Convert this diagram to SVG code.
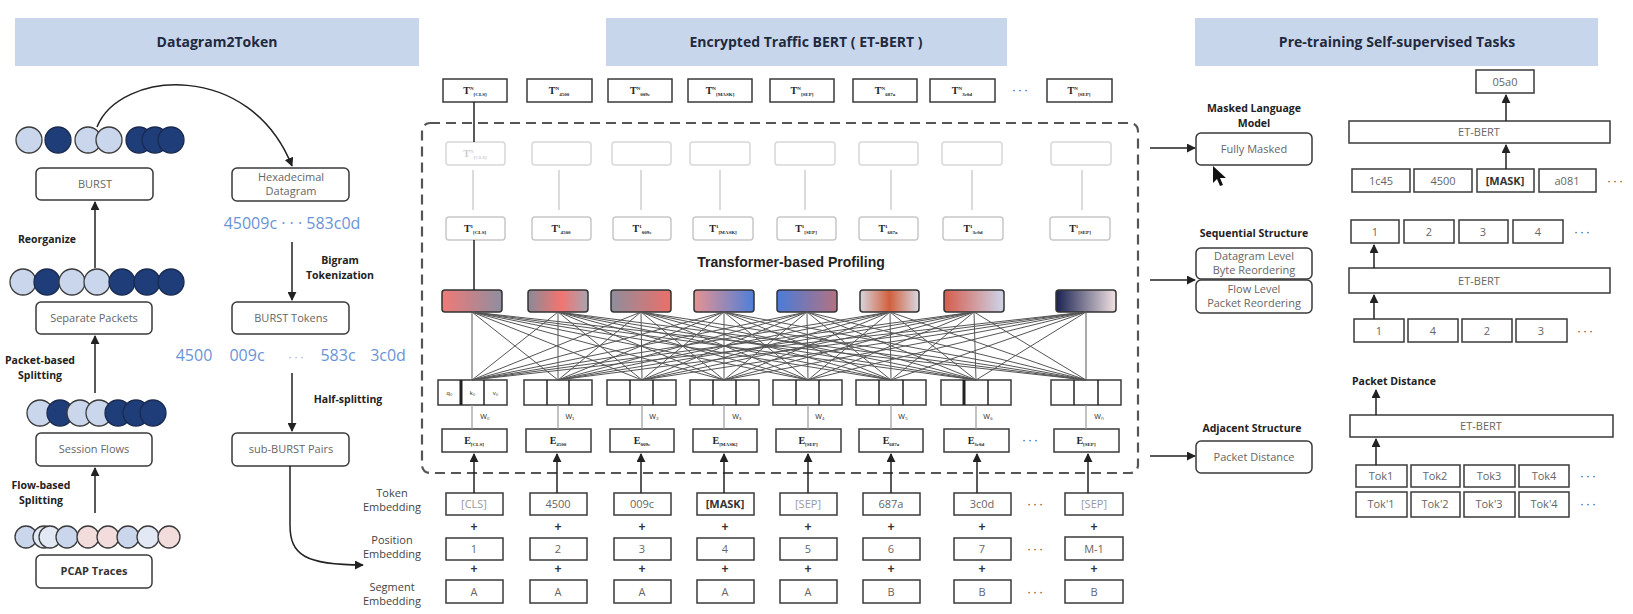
<svg xmlns="http://www.w3.org/2000/svg" width="1633" height="614" viewBox="0 0 1633 614">
<defs>
<style>
.hdr{fill:#c8d6ec}
.ht{font-family:"Open Sans","Liberation Sans",sans-serif;font-weight:bold;font-size:14px;fill:#1f2a40;text-anchor:middle}
.box{fill:#fff;stroke:#3a3a3a;stroke-width:1.5}
.rbox{fill:#fff;stroke:#3a3a3a;stroke-width:1.5}
.fbox{fill:#fff;stroke:#d8d8d8;stroke-width:1.5}
.tbox{fill:#fff;stroke:#c8c8c8;stroke-width:1.5}
.bt{font-family:"Open Sans","Liberation Sans",sans-serif;font-size:11px;fill:#666;text-anchor:middle}
.lb{font-family:"Open Sans","Liberation Sans",sans-serif;font-weight:bold;font-size:10.5px;fill:#222;text-anchor:middle}
.blue{font-family:"Open Sans","Liberation Sans",sans-serif;font-size:16px;fill:#6b93d6;text-anchor:middle}
.tt{font-family:"Liberation Serif",serif;font-size:10px;fill:#222;text-anchor:middle;font-weight:bold}
.ts{font-size:5px}
.ln{stroke:#222;stroke-width:1.5;fill:none}
.gl{stroke:#cfcfcf;stroke-width:1.5;fill:none}
.att{stroke:#555;stroke-width:1;fill:none}
.dash{fill:none;stroke:#555;stroke-width:2.2;stroke-dasharray:10,6}
.cl{fill:#c9d6ec;stroke:#3a3a3a;stroke-width:1.3}
.cd{fill:#1f3d78;stroke:#1a2a50;stroke-width:1.3}
.cw{fill:#e2e9f4;stroke:#3a3a3a;stroke-width:1.3}
.cp{fill:#f2dcdc;stroke:#3a3a3a;stroke-width:1.3}
.sm{font-family:"Liberation Sans",sans-serif;font-size:6px;fill:#333;text-anchor:middle}
.pl{font-family:"Liberation Sans",sans-serif;font-size:12px;fill:#333;text-anchor:middle;font-weight:bold}
.dots{font-family:"Liberation Sans",sans-serif;font-size:12px;fill:#444;text-anchor:middle;letter-spacing:2px}
</style>
<marker id="ah" viewBox="0 0 10 10" refX="9" refY="5" markerWidth="6" markerHeight="6" orient="auto-start-reverse"><path d="M0,0 L10,5 L0,10 z" fill="#222"/></marker>
<linearGradient id="g1"><stop offset="0" stop-color="#f07a76"/><stop offset="1" stop-color="#8f8ea0"/></linearGradient>
<linearGradient id="g2"><stop offset="0" stop-color="#8a8a98"/><stop offset="0.55" stop-color="#f27470"/><stop offset="1" stop-color="#a9a4b0"/></linearGradient>
<linearGradient id="g3"><stop offset="0" stop-color="#8e8e9c"/><stop offset="1" stop-color="#ec6f6a"/></linearGradient>
<linearGradient id="g4"><stop offset="0" stop-color="#e69292"/><stop offset="1" stop-color="#4f7fd8"/></linearGradient>
<linearGradient id="g5"><stop offset="0" stop-color="#4a7cd8"/><stop offset="1" stop-color="#b27282"/></linearGradient>
<linearGradient id="g6"><stop offset="0" stop-color="#d6d6de"/><stop offset="0.5" stop-color="#d2603e"/><stop offset="1" stop-color="#d8d8e2"/></linearGradient>
<linearGradient id="g7"><stop offset="0" stop-color="#d65c4c"/><stop offset="1" stop-color="#cdd5ea"/></linearGradient>
<linearGradient id="g8"><stop offset="0" stop-color="#1a2252"/><stop offset="1" stop-color="#f2e2e2"/></linearGradient>
</defs>
<rect width="1633" height="614" fill="#fff"/>

<!-- headers -->
<g id="hdr1"><rect class="hdr" x="15" y="18" width="404" height="48"/><text class="ht" x="217" y="47">Datagram2Token</text></g>
<g id="hdr2"><rect class="hdr" x="606" y="18" width="401" height="48"/><text class="ht" x="806" y="47">Encrypted Traffic BERT ( ET-BERT )</text></g>
<g id="hdr3"><rect class="hdr" x="1195" y="18" width="403" height="48"/><text class="ht" x="1397" y="47">Pre-training Self-supervised Tasks</text></g>

<!-- LEFT PANEL -->
<g id="circles1">
<circle class="cl" cx="29" cy="140" r="13"/><circle class="cd" cx="58" cy="140" r="13"/>
<circle class="cl" cx="88" cy="140" r="13"/><circle class="cl" cx="109" cy="140" r="13"/>
<circle class="cd" cx="139" cy="140" r="13"/><circle class="cd" cx="155" cy="140" r="13"/><circle class="cd" cx="171" cy="140" r="13"/>
</g>
<g id="burst"><rect class="rbox" x="36" y="168" width="117" height="32" rx="5"/><text class="bt" x="95" y="188">BURST</text></g>
<g id="hexdg"><rect class="rbox" x="232" y="168" width="117" height="33" rx="5"/><text class="bt" x="291" y="181">Hexadecimal</text><text class="bt" x="291" y="195">Datagram</text></g>
<text class="blue" x="292" y="229">45009c · · · 583c0d</text>

<g id="circles2">
<circle class="cl" cx="23" cy="282" r="13"/><circle class="cd" cx="47" cy="282" r="13"/>
<circle class="cl" cx="72" cy="282" r="13"/><circle class="cl" cx="97" cy="282" r="13"/>
<circle class="cd" cx="122" cy="282" r="13"/><circle class="cd" cx="147" cy="282" r="13"/><circle class="cd" cx="171" cy="282" r="13"/>
</g>
<g id="seppk"><rect class="rbox" x="36" y="302" width="116" height="32" rx="5"/><text class="bt" x="94" y="322">Separate Packets</text></g>
<g id="bursttok"><rect class="rbox" x="232" y="302" width="117" height="32" rx="5"/><text class="bt" x="291" y="322">BURST Tokens</text></g>
<g id="bluerow">
<text class="blue" x="194" y="361">4500</text><text class="blue" x="247" y="361">009c</text>
<text class="dots" x="297" y="361" style="fill:#9aaed6">···</text>
<text class="blue" x="338" y="361">583c</text><text class="blue" x="388" y="361">3c0d</text>
</g>

<g id="circles3">
<circle class="cl" cx="40" cy="413" r="13"/><circle class="cd" cx="60" cy="413" r="13"/>
<circle class="cl" cx="80" cy="413" r="13"/><circle class="cl" cx="99" cy="413" r="13"/>
<circle class="cd" cx="118" cy="413" r="13"/><circle class="cd" cx="136" cy="413" r="13"/><circle class="cd" cx="153" cy="413" r="13"/>
</g>
<g id="sessflows"><rect class="rbox" x="36" y="433" width="116" height="33" rx="5"/><text class="bt" x="94" y="453">Session Flows</text></g>
<g id="subburst"><rect class="rbox" x="232" y="433" width="117" height="33" rx="5"/><text class="bt" x="291" y="453">sub-BURST Pairs</text></g>

<g id="circles4">
<circle class="cl" cx="26" cy="537" r="11"/><circle class="cw" cx="44" cy="537" r="11"/><circle class="cw" cx="50" cy="537" r="11"/>
<circle class="cl" cx="67" cy="537" r="11"/><circle class="cp" cx="88" cy="537" r="11"/><circle class="cp" cx="108" cy="537" r="11"/>
<circle class="cl" cx="128" cy="537" r="11"/><circle class="cw" cx="148" cy="537" r="11"/><circle class="cp" cx="169" cy="537" r="11"/>
</g>
<g id="pcap"><rect class="rbox" x="36" y="555" width="116" height="33" rx="5"/><text class="bt" x="94" y="575" style="font-weight:bold;fill:#333">PCAP Traces</text></g>

<g id="leftlabels">
<text class="lb" x="47" y="243">Reorganize</text>
<text class="lb" x="40" y="364">Packet-based</text><text class="lb" x="40" y="379">Splitting</text>
<text class="lb" x="41" y="489">Flow-based</text><text class="lb" x="41" y="504">Splitting</text>
<text class="lb" x="340" y="264">Bigram</text><text class="lb" x="340" y="279">Tokenization</text>
<text class="lb" x="348" y="403">Half-splitting</text>
</g>

<!-- MIDDLE PANEL -->
<rect id="dashbox" class="dash" x="422" y="123" width="716" height="350" rx="8"/>

<g id="topTN">
<rect class="box" x="443" y="79" width="64" height="23"/><text class="tt" x="475" y="94">T<tspan class="ts" dy="-4">N</tspan><tspan class="ts" dy="6">[CLS]</tspan></text>
<rect class="box" x="527" y="79" width="65" height="23"/><text class="tt" x="559" y="94">T<tspan class="ts" dy="-4">N</tspan><tspan class="ts" dy="6">4500</tspan></text>
<rect class="box" x="608" y="79" width="64" height="23"/><text class="tt" x="640" y="94">T<tspan class="ts" dy="-4">N</tspan><tspan class="ts" dy="6">009c</tspan></text>
<rect class="box" x="688" y="79" width="64" height="23"/><text class="tt" x="720" y="94">T<tspan class="ts" dy="-4">N</tspan><tspan class="ts" dy="6">[MASK]</tspan></text>
<rect class="box" x="770" y="79" width="64" height="23"/><text class="tt" x="802" y="94">T<tspan class="ts" dy="-4">N</tspan><tspan class="ts" dy="6">[SEP]</tspan></text>
<rect class="box" x="853" y="79" width="64" height="23"/><text class="tt" x="885" y="94">T<tspan class="ts" dy="-4">N</tspan><tspan class="ts" dy="6">687a</tspan></text>
<rect class="box" x="930" y="79" width="65" height="23"/><text class="tt" x="962" y="94">T<tspan class="ts" dy="-4">N</tspan><tspan class="ts" dy="6">3c0d</tspan></text>
<text class="dots" x="1021" y="94">···</text>
<rect class="box" x="1047" y="79" width="65" height="23"/><text class="tt" x="1079" y="94">T<tspan class="ts" dy="-4">N</tspan><tspan class="ts" dy="6">[SEP]</tspan></text>
</g>

<g id="fadedrow">
<rect class="fbox" x="446" y="142" width="59" height="23" rx="3"/><text class="tt" x="475" y="157" style="fill:#ccc">T<tspan class="ts" dy="-4">N</tspan><tspan class="ts" dy="6">[CLS]</tspan></text>
<rect class="fbox" x="532" y="142" width="59" height="23" rx="3"/>
<rect class="fbox" x="612" y="142" width="59" height="23" rx="3"/>
<rect class="fbox" x="690" y="142" width="60" height="23" rx="3"/>
<rect class="fbox" x="775" y="142" width="60" height="23" rx="3"/>
<rect class="fbox" x="859" y="142" width="59" height="23" rx="3"/>
<rect class="fbox" x="942" y="142" width="60" height="23" rx="3"/>
<rect class="fbox" x="1051" y="142" width="60" height="23" rx="3"/>
</g>

<g id="t1row">
<rect class="tbox" x="446" y="217" width="59" height="23" rx="3"/><text class="tt" x="475" y="232">T<tspan class="ts" dy="-4">1</tspan><tspan class="ts" dy="6">[CLS]</tspan></text>
<rect class="tbox" x="532" y="217" width="59" height="23" rx="3"/><text class="tt" x="561" y="232">T<tspan class="ts" dy="-4">1</tspan><tspan class="ts" dy="6">4500</tspan></text>
<rect class="tbox" x="613" y="217" width="58" height="23" rx="3"/><text class="tt" x="642" y="232">T<tspan class="ts" dy="-4">1</tspan><tspan class="ts" dy="6">009c</tspan></text>
<rect class="tbox" x="693" y="217" width="60" height="23" rx="3"/><text class="tt" x="723" y="232">T<tspan class="ts" dy="-4">1</tspan><tspan class="ts" dy="6">[MASK]</tspan></text>
<rect class="tbox" x="777" y="217" width="59" height="23" rx="3"/><text class="tt" x="806" y="232">T<tspan class="ts" dy="-4">1</tspan><tspan class="ts" dy="6">[SEP]</tspan></text>
<rect class="tbox" x="859" y="217" width="59" height="23" rx="3"/><text class="tt" x="888" y="232">T<tspan class="ts" dy="-4">1</tspan><tspan class="ts" dy="6">687a</tspan></text>
<rect class="tbox" x="943" y="217" width="60" height="23" rx="3"/><text class="tt" x="973" y="232">T<tspan class="ts" dy="-4">1</tspan><tspan class="ts" dy="6">3c0d</tspan></text>
<rect class="tbox" x="1050" y="217" width="60" height="23" rx="3"/><text class="tt" x="1080" y="232">T<tspan class="ts" dy="-4">1</tspan><tspan class="ts" dy="6">[SEP]</tspan></text>
</g>

<text class="pl" x="791" y="267" style="font-size:14px;fill:#222">Transformer-based Profiling</text>

<g id="gradrow" stroke="#333" stroke-width="1.5">
<rect x="442" y="290" width="60" height="22" rx="3" fill="url(#g1)"/>
<rect x="528" y="290" width="60" height="22" rx="3" fill="url(#g2)"/>
<rect x="611" y="290" width="60" height="22" rx="3" fill="url(#g3)"/>
<rect x="694" y="290" width="60" height="22" rx="3" fill="url(#g4)"/>
<rect x="777" y="290" width="60" height="22" rx="3" fill="url(#g5)"/>
<rect x="860" y="290" width="59" height="22" rx="3" fill="url(#g6)"/>
<rect x="944" y="290" width="60" height="22" rx="3" fill="url(#g7)"/>
<rect x="1056" y="290" width="60" height="22" rx="3" fill="url(#g8)"/>
</g>

<g id="qkvrow">
<rect class="box" x="438" y="380" width="69" height="25"/><line class="ln" x1="461" y1="380" x2="461" y2="405" style="stroke-width:3"/><line class="ln" x1="484" y1="380" x2="484" y2="405"/>
<text class="sm" x="449.5" y="395">q₀</text><text class="sm" x="472.5" y="395">k₀</text><text class="sm" x="495.5" y="395">v₀</text>
<rect class="box" x="524" y="380" width="68" height="25"/><line class="ln" x1="547" y1="380" x2="547" y2="405"/><line class="ln" x1="569" y1="380" x2="569" y2="405"/>
<rect class="box" x="607" y="380" width="69" height="25"/><line class="ln" x1="630" y1="380" x2="630" y2="405"/><line class="ln" x1="653" y1="380" x2="653" y2="405"/>
<rect class="box" x="690" y="380" width="69" height="25"/><line class="ln" x1="713" y1="380" x2="713" y2="405"/><line class="ln" x1="736" y1="380" x2="736" y2="405"/>
<rect class="box" x="773" y="380" width="69" height="25"/><line class="ln" x1="796" y1="380" x2="796" y2="405"/><line class="ln" x1="819" y1="380" x2="819" y2="405"/>
<rect class="box" x="856" y="380" width="70" height="25"/><line class="ln" x1="879" y1="380" x2="879" y2="405"/><line class="ln" x1="903" y1="380" x2="903" y2="405"/>
<rect class="box" x="941" y="380" width="70" height="25"/><line class="ln" x1="964" y1="380" x2="964" y2="405" style="stroke-width:3"/><line class="ln" x1="988" y1="380" x2="988" y2="405"/>
<rect class="box" x="1051" y="380" width="70" height="25"/><line class="ln" x1="1074" y1="380" x2="1074" y2="405"/><line class="ln" x1="1098" y1="380" x2="1098" y2="405"/>
</g>

<g id="wlabels" class="sm">
<text class="sm" x="485" y="419" style="font-size:7px">W₀</text>
<text class="sm" x="570" y="419" style="font-size:7px">W₁</text>
<text class="sm" x="654" y="419" style="font-size:7px">W₂</text>
<text class="sm" x="737" y="419" style="font-size:7px">W₃</text>
<text class="sm" x="820" y="419" style="font-size:7px">W₄</text>
<text class="sm" x="903" y="419" style="font-size:7px">W₅</text>
<text class="sm" x="988" y="419" style="font-size:7px">W₆</text>
<text class="sm" x="1099" y="419" style="font-size:7px">Wₙ</text>
</g>

<g id="erow">
<rect class="box" x="442" y="429" width="65" height="23"/><text class="tt" x="474" y="444">E<tspan class="ts" dy="2">[CLS]</tspan></text>
<rect class="box" x="526" y="429" width="65" height="23"/><text class="tt" x="558" y="444">E<tspan class="ts" dy="2">4500</tspan></text>
<rect class="box" x="610" y="429" width="64" height="23"/><text class="tt" x="642" y="444">E<tspan class="ts" dy="2">009c</tspan></text>
<rect class="box" x="693" y="429" width="64" height="23"/><text class="tt" x="725" y="444">E<tspan class="ts" dy="2">[MASK]</tspan></text>
<rect class="box" x="776" y="429" width="65" height="23"/><text class="tt" x="808" y="444">E<tspan class="ts" dy="2">[SEP]</tspan></text>
<rect class="box" x="859" y="429" width="64" height="23"/><text class="tt" x="891" y="444">E<tspan class="ts" dy="2">687a</tspan></text>
<rect class="box" x="944" y="429" width="65" height="23"/><text class="tt" x="976" y="444">E<tspan class="ts" dy="2">3c0d</tspan></text>
<text class="dots" x="1031" y="444">···</text>
<rect class="box" x="1054" y="429" width="65" height="23"/><text class="tt" x="1086" y="444">E<tspan class="ts" dy="2">[SEP]</tspan></text>
</g>

<g id="embedlabels">
<text class="bt" x="392" y="497" style="fill:#444">Token</text><text class="bt" x="392" y="511" style="fill:#444">Embedding</text>
<text class="bt" x="392" y="544" style="fill:#444">Position</text><text class="bt" x="392" y="558" style="fill:#444">Embedding</text>
<text class="bt" x="392" y="591" style="fill:#444">Segment</text><text class="bt" x="392" y="605" style="fill:#444">Embedding</text>
</g>

<g id="tokrow">
<rect class="box" x="446" y="493" width="57" height="22"/><text class="bt" x="474" y="508" style="fill:#999">[CLS]</text>
<rect class="box" x="530" y="493" width="57" height="22"/><text class="bt" x="558" y="508">4500</text>
<rect class="box" x="614" y="493" width="57" height="22"/><text class="bt" x="642" y="508">009c</text>
<rect class="box" x="697" y="493" width="57" height="22"/><text class="bt" x="725" y="508" style="font-weight:bold;fill:#333">[MASK]</text>
<rect class="box" x="780" y="493" width="57" height="22"/><text class="bt" x="808" y="508" style="fill:#999">[SEP]</text>
<rect class="box" x="863" y="493" width="57" height="22"/><text class="bt" x="891" y="508">687a</text>
<rect class="box" x="954" y="493" width="57" height="22"/><text class="bt" x="982" y="508">3c0d</text>
<text class="dots" x="1036" y="508">···</text>
<rect class="box" x="1065" y="493" width="58" height="22"/><text class="bt" x="1094" y="508" style="fill:#999">[SEP]</text>
</g>
<g id="posrow">
<rect class="box" x="446" y="538" width="57" height="22"/><text class="bt" x="474" y="553">1</text>
<rect class="box" x="530" y="538" width="57" height="22"/><text class="bt" x="558" y="553">2</text>
<rect class="box" x="614" y="538" width="57" height="22"/><text class="bt" x="642" y="553">3</text>
<rect class="box" x="697" y="538" width="57" height="22"/><text class="bt" x="725" y="553">4</text>
<rect class="box" x="780" y="538" width="57" height="22"/><text class="bt" x="808" y="553">5</text>
<rect class="box" x="863" y="538" width="57" height="22"/><text class="bt" x="891" y="553">6</text>
<rect class="box" x="954" y="538" width="57" height="22"/><text class="bt" x="982" y="553">7</text>
<text class="dots" x="1036" y="553">···</text>
<rect class="box" x="1065" y="537" width="58" height="23"/><text class="bt" x="1094" y="553">M-1</text>
</g>
<g id="segrow">
<rect class="box" x="446" y="580" width="57" height="23"/><text class="bt" x="474" y="596">A</text>
<rect class="box" x="530" y="580" width="57" height="23"/><text class="bt" x="558" y="596">A</text>
<rect class="box" x="614" y="580" width="57" height="23"/><text class="bt" x="642" y="596">A</text>
<rect class="box" x="697" y="580" width="57" height="23"/><text class="bt" x="725" y="596">A</text>
<rect class="box" x="780" y="580" width="57" height="23"/><text class="bt" x="808" y="596">A</text>
<rect class="box" x="863" y="580" width="57" height="23"/><text class="bt" x="891" y="596">B</text>
<rect class="box" x="954" y="580" width="57" height="23"/><text class="bt" x="982" y="596">B</text>
<text class="dots" x="1036" y="596">···</text>
<rect class="box" x="1065" y="580" width="58" height="23"/><text class="bt" x="1094" y="596">B</text>
</g>
<g id="plus" class="pl">
<text class="pl" x="474" y="531">+</text><text class="pl" x="558" y="531">+</text><text class="pl" x="642" y="531">+</text><text class="pl" x="725" y="531">+</text><text class="pl" x="808" y="531">+</text><text class="pl" x="891" y="531">+</text><text class="pl" x="982" y="531">+</text><text class="pl" x="1094" y="531">+</text>
<text class="pl" x="474" y="573">+</text><text class="pl" x="558" y="573">+</text><text class="pl" x="642" y="573">+</text><text class="pl" x="725" y="573">+</text><text class="pl" x="808" y="573">+</text><text class="pl" x="891" y="573">+</text><text class="pl" x="982" y="573">+</text><text class="pl" x="1094" y="573">+</text>
</g>

<!-- RIGHT PANEL -->
<g id="mlm"><text class="lb" x="1254" y="112">Masked Language</text><text class="lb" x="1254" y="127">Model</text>
<rect class="rbox" x="1196" y="133" width="116" height="32" rx="5"/><text class="bt" x="1254" y="153">Fully Masked</text></g>
<polygon points="1213,166 1213,183 1217,179 1220,186 1223,185 1220,178 1226,178" fill="#111"/>
<g id="seq"><text class="lb" x="1254" y="237">Sequential Structure</text>
<rect class="rbox" x="1196" y="248" width="116" height="31" rx="5"/><text class="bt" x="1254" y="260">Datagram Level</text><text class="bt" x="1254" y="274">Byte Reordering</text>
<rect class="rbox" x="1196" y="280" width="116" height="33" rx="5"/><text class="bt" x="1254" y="293">Flow Level</text><text class="bt" x="1254" y="307">Packet Reordering</text></g>
<g id="adj"><text class="lb" x="1252" y="432">Adjacent Structure</text>
<rect class="rbox" x="1196" y="441" width="116" height="32" rx="5"/><text class="bt" x="1254" y="461">Packet Distance</text></g>

<g id="task1">
<rect class="box" x="1476" y="70" width="58" height="23"/><text class="bt" x="1505" y="86">05a0</text>
<rect class="box" x="1349" y="121" width="261" height="22"/><text class="bt" x="1479" y="136">ET-BERT</text>
<rect class="box" x="1352" y="169" width="58" height="23"/><text class="bt" x="1381" y="185">1c45</text>
<rect class="box" x="1414" y="169" width="58" height="23"/><text class="bt" x="1443" y="185">4500</text>
<rect class="box" x="1477" y="169" width="57" height="23"/><text class="bt" x="1505" y="185" style="font-weight:bold;fill:#333">[MASK]</text>
<rect class="box" x="1539" y="169" width="57" height="23"/><text class="bt" x="1567" y="185">a081</text>
<text class="dots" x="1616" y="185">···</text>
</g>
<g id="task2">
<rect class="box" x="1351" y="220" width="48" height="23"/><text class="bt" x="1375" y="236">1</text>
<rect class="box" x="1404" y="220" width="50" height="23"/><text class="bt" x="1429" y="236">2</text>
<rect class="box" x="1459" y="220" width="49" height="23"/><text class="bt" x="1483" y="236">3</text>
<rect class="box" x="1513" y="220" width="50" height="23"/><text class="bt" x="1538" y="236">4</text>
<text class="dots" x="1583" y="236">···</text>
<rect class="box" x="1349" y="268" width="261" height="25"/><text class="bt" x="1479" y="285">ET-BERT</text>
<rect class="box" x="1354" y="319" width="50" height="23"/><text class="bt" x="1379" y="335">1</text>
<rect class="box" x="1408" y="319" width="50" height="23"/><text class="bt" x="1433" y="335">4</text>
<rect class="box" x="1462" y="319" width="50" height="23"/><text class="bt" x="1487" y="335">2</text>
<rect class="box" x="1516" y="319" width="51" height="23"/><text class="bt" x="1541" y="335">3</text>
<text class="dots" x="1586" y="335">···</text>
</g>
<g id="task3">
<text class="lb" x="1352" y="385" style="text-anchor:start">Packet Distance</text>
<rect class="box" x="1350" y="415" width="263" height="22"/><text class="bt" x="1481" y="430">ET-BERT</text>
<rect class="box" x="1356" y="465" width="51" height="22"/><text class="bt" x="1381" y="480">Tok1</text>
<rect class="box" x="1411" y="465" width="49" height="22"/><text class="bt" x="1435" y="480">Tok2</text>
<rect class="box" x="1464" y="465" width="51" height="22"/><text class="bt" x="1489" y="480">Tok3</text>
<rect class="box" x="1519" y="465" width="50" height="22"/><text class="bt" x="1544" y="480">Tok4</text>
<text class="dots" x="1589" y="480">···</text>
<rect class="box" x="1356" y="492" width="51" height="25"/><text class="bt" x="1381" y="508">Tok'1</text>
<rect class="box" x="1411" y="492" width="49" height="25"/><text class="bt" x="1435" y="508">Tok'2</text>
<rect class="box" x="1464" y="492" width="51" height="25"/><text class="bt" x="1489" y="508">Tok'3</text>
<rect class="box" x="1519" y="492" width="50" height="25"/><text class="bt" x="1544" y="508">Tok'4</text>
<text class="dots" x="1589" y="508">···</text>
</g>

<!-- CONNECTORS -->
<g id="connectors">
<path class="ln" d="M97,127 C120,70 250,60 292,166" marker-end="url(#ah)"/>
<line class="ln" x1="95" y1="268" x2="95" y2="202" marker-end="url(#ah)"/>
<line class="ln" x1="292" y1="242" x2="292" y2="300" marker-end="url(#ah)"/>
<line class="ln" x1="95" y1="393" x2="95" y2="336" marker-end="url(#ah)"/>
<line class="ln" x1="292" y1="373" x2="292" y2="431" marker-end="url(#ah)"/>
<line class="ln" x1="95" y1="513" x2="95" y2="468" marker-end="url(#ah)"/>
<path class="ln" d="M290,466 L290,525 C290,555 305,565 363,565" marker-end="url(#ah)"/>

<line class="ln" x1="474" y1="102" x2="474" y2="142"/>
<line class="ln" x1="474" y1="240" x2="474" y2="290"/>
<g class="gl">
<line x1="473" y1="170" x2="473" y2="210"/><line x1="559" y1="170" x2="559" y2="210"/><line x1="641" y1="170" x2="641" y2="210"/>
<line x1="720" y1="170" x2="720" y2="210"/><line x1="805" y1="170" x2="805" y2="210"/><line x1="891" y1="170" x2="891" y2="210"/>
<line x1="972" y1="170" x2="972" y2="210"/><line x1="1082" y1="170" x2="1082" y2="210"/>
</g>
<g class="att">
<path d="M472,312 L472,380 M472,312 L558,380 M472,312 L642,380 M472,312 L724,380 M472,312 L808,380 M472,312 L891,380 M472,312 L976,380 M472,312 L1086,380"/>
<path d="M558,312 L472,380 M558,312 L558,380 M558,312 L642,380 M558,312 L724,380 M558,312 L808,380 M558,312 L891,380 M558,312 L976,380 M558,312 L1086,380"/>
<path d="M641,312 L472,380 M641,312 L558,380 M641,312 L642,380 M641,312 L724,380 M641,312 L808,380 M641,312 L891,380 M641,312 L976,380 M641,312 L1086,380"/>
<path d="M724,312 L472,380 M724,312 L558,380 M724,312 L642,380 M724,312 L724,380 M724,312 L808,380 M724,312 L891,380 M724,312 L976,380 M724,312 L1086,380"/>
<path d="M807,312 L472,380 M807,312 L558,380 M807,312 L642,380 M807,312 L724,380 M807,312 L808,380 M807,312 L891,380 M807,312 L976,380 M807,312 L1086,380"/>
<path d="M890,312 L472,380 M890,312 L558,380 M890,312 L642,380 M890,312 L724,380 M890,312 L808,380 M890,312 L891,380 M890,312 L976,380 M890,312 L1086,380"/>
<path d="M974,312 L472,380 M974,312 L558,380 M974,312 L642,380 M974,312 L724,380 M974,312 L808,380 M974,312 L891,380 M974,312 L976,380 M974,312 L1086,380"/>
<path d="M1086,312 L472,380 M1086,312 L558,380 M1086,312 L642,380 M1086,312 L724,380 M1086,312 L808,380 M1086,312 L891,380 M1086,312 L976,380 M1086,312 L1086,380"/>
</g>
<g style="stroke:#999;stroke-width:1.2">
<line x1="472" y1="405" x2="472" y2="429"/><line x1="558" y1="405" x2="558" y2="429"/><line x1="642" y1="405" x2="642" y2="429"/>
<line x1="724" y1="405" x2="724" y2="429"/><line x1="808" y1="405" x2="808" y2="429"/><line x1="891" y1="405" x2="891" y2="429"/>
<line x1="976" y1="405" x2="976" y2="429"/><line x1="1086" y1="405" x2="1086" y2="429"/>
</g>
<line class="ln" x1="474" y1="493" x2="474" y2="454" marker-end="url(#ah)"/>
<line class="ln" x1="557" y1="493" x2="557" y2="454" marker-end="url(#ah)"/>
<line class="ln" x1="641" y1="493" x2="641" y2="454" marker-end="url(#ah)"/>
<line class="ln" x1="724" y1="493" x2="724" y2="454" marker-end="url(#ah)"/>
<line class="ln" x1="808" y1="493" x2="808" y2="454" marker-end="url(#ah)"/>
<line class="ln" x1="891" y1="493" x2="891" y2="454" marker-end="url(#ah)"/>
<line class="ln" x1="977" y1="493" x2="977" y2="454" marker-end="url(#ah)"/>
<line class="ln" x1="1088" y1="493" x2="1088" y2="454" marker-end="url(#ah)"/>

<line class="ln" x1="1150" y1="148" x2="1195" y2="148" marker-end="url(#ah)"/>
<line class="ln" x1="1150" y1="280" x2="1195" y2="280" marker-end="url(#ah)"/>
<line class="ln" x1="1150" y1="456" x2="1195" y2="456" marker-end="url(#ah)"/>

<line class="ln" x1="1506" y1="121" x2="1506" y2="95" marker-end="url(#ah)"/>
<line class="ln" x1="1506" y1="169" x2="1506" y2="145" marker-end="url(#ah)"/>
<line class="ln" x1="1374" y1="268" x2="1374" y2="245" marker-end="url(#ah)"/>
<line class="ln" x1="1374" y1="319" x2="1374" y2="295" marker-end="url(#ah)"/>
<line class="ln" x1="1376" y1="415" x2="1376" y2="390" marker-end="url(#ah)"/>
<line class="ln" x1="1376" y1="465" x2="1376" y2="439" marker-end="url(#ah)"/>
</g>
</svg>
